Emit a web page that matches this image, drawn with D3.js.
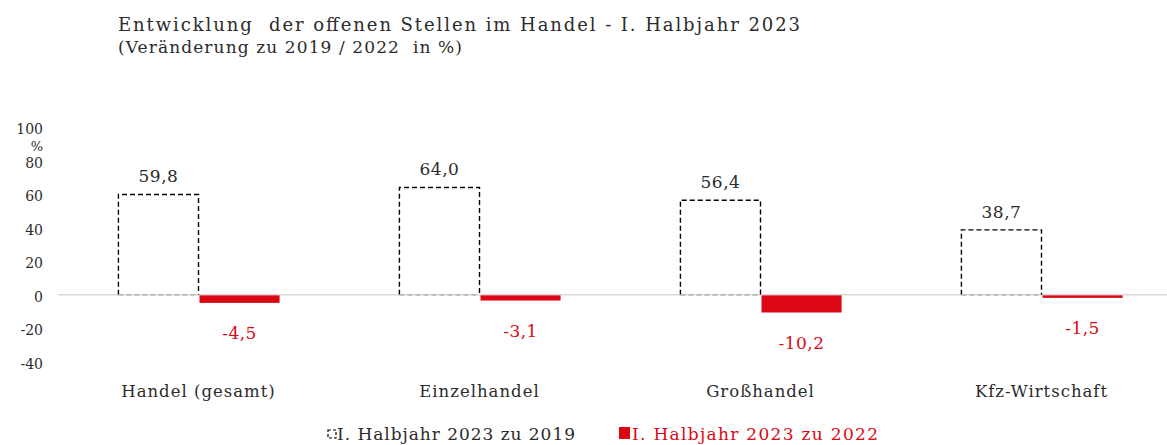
<!DOCTYPE html>
<html><head><meta charset="utf-8">
<script src="https://cdn.jsdelivr.net/npm/d3@7"></script>
<style>
html,body{margin:0;padding:0;background:#fff;}
svg{display:block;font-family:"DejaVu Serif",serif;}
</style></head>
<body>
<svg id="chart" width="1167" height="445"></svg>
<script>
const categories = ["Handel (gesamt)", "Einzelhandel", "Großhandel", "Kfz-Wirtschaft"];
const series = ["I. Halbjahr 2023 zu 2019", "I. Halbjahr 2023 zu 2022"];
const values2019 = [59.8, 64.0, 56.4, 38.7];
const values2022 = [-4.5, -3.1, -10.2, -1.5];
const yTicks = [100, 80, 60, 40, 20, 0, -20, -40];
const titleText = "Entwicklung  der offenen Stellen im Handel - I. Halbjahr 2023";
const subtitleText = "(Veränderung zu 2019 / 2022  in %)";

const RED = "#dc0714", TXT = "#2b2b2b";
const svg = d3.select("#chart");
const fmt = v => d3.format(".1f")(v).replace(".", ",").replace("\u2212", "-");

const y = d3.scaleLinear().domain([-40, 100]).range([362, 127]);
const x = d3.scaleBand().domain(categories).range([58, 1182]).padding(0);
const bw = x.bandwidth();
const xs = d3.scaleBand().domain(series).range([bw * 0.215, bw * 0.785]).padding(0);

// title
svg.append("text").attr("x", 118).attr("y", 31).attr("fill", TXT)
  .attr("font-size", 18).attr("textLength", 682).attr("lengthAdjust", "spacing")
  .style("white-space", "pre").text(titleText);
svg.append("text").attr("x", 118).attr("y", 53).attr("fill", TXT)
  .attr("font-size", 17).attr("textLength", 344).attr("lengthAdjust", "spacing")
  .style("white-space", "pre").text(subtitleText);

// y axis labels
const yAxis = d3.axisLeft(y).tickValues(yTicks).tickSize(0).tickPadding(0).tickFormat(d => String(d));
const ga = svg.append("g").attr("transform", "translate(43,2)").call(yAxis);
ga.select(".domain").remove();
ga.selectAll("text").attr("font-family", "DejaVu Serif").attr("font-size", 14).attr("fill", TXT);
svg.append("text").attr("x", 43).attr("y", 151).attr("text-anchor", "end")
  .attr("font-size", 13).attr("fill", TXT).text("%");

// zero line
svg.append("line").attr("x1", 58).attr("x2", 1167).attr("y1", y(0)).attr("y2", y(0))
  .attr("stroke", "#d9d9d9").attr("stroke-width", 1.5);

const groups = svg.selectAll("g.grp").data(categories).enter().append("g")
  .attr("class", "grp").attr("transform", d => `translate(${x(d)},0)`);

// dashed bars (2019)
groups.each(function(c, i) {
  const g = d3.select(this);
  const x0 = xs(series[0]), x1 = x0 + xs.bandwidth();
  const yt = y(values2019[i]), y0 = y(0);
  g.append("path").attr("d", `M${x0},${y0} L${x0},${yt} L${x1},${yt} L${x1},${y0}`)
    .attr("fill", "none").attr("stroke", "#000").attr("stroke-width", 1.4)
    .attr("stroke-dasharray", "5,3");
  g.append("line").attr("x1", x0).attr("x2", x1).attr("y1", y0).attr("y2", y0)
    .attr("stroke", "#b8b8b8").attr("stroke-width", 1.6).attr("stroke-dasharray", "5,3");
  g.append("text").attr("x", (x0 + x1) / 2).attr("y", yt - 12).attr("text-anchor", "middle")
    .attr("font-size", 17).attr("letter-spacing", 0.5).attr("fill", TXT).text(fmt(values2019[i]));
});

// red bars (2022)
groups.each(function(c, i) {
  const g = d3.select(this);
  const x0 = xs(series[1]) + 1, w = xs.bandwidth();
  const v = values2022[i];
  g.append("rect").attr("x", x0).attr("y", y(0) + 0.5).attr("width", w)
    .attr("height", Math.max(1, y(v) - y(0))).attr("fill", RED);
  g.append("text").attr("x", x0 + w / 2).attr("y", y(v) + 37).attr("text-anchor", "middle")
    .attr("font-size", 17).attr("letter-spacing", 0.5).attr("fill", RED).text(fmt(v));
});

// category labels
svg.selectAll("text.cat").data(categories).enter().append("text").attr("class", "cat")
  .attr("x", d => x(d) + bw / 2).attr("y", 397).attr("text-anchor", "middle")
  .attr("font-size", 16.5).attr("letter-spacing", 1).attr("fill", TXT).text(d => d);

// legend
const lg = svg.append("g");
lg.append("rect").attr("x", 328).attr("y", 430).attr("width", 8).attr("height", 8)
  .attr("fill", "none").attr("stroke", "#000").attr("stroke-width", 1.2).attr("stroke-dasharray", "3,2");
lg.append("text").attr("x", 337).attr("y", 440).attr("font-size", 17).attr("fill", TXT)
  .attr("textLength", 238).attr("lengthAdjust", "spacing").text(series[0]);
lg.append("rect").attr("x", 619).attr("y", 427).attr("width", 11).attr("height", 12).attr("fill", RED);
lg.append("text").attr("x", 632).attr("y", 440).attr("font-size", 17).attr("fill", RED)
  .attr("textLength", 246).attr("lengthAdjust", "spacing").text(series[1]);
</script>
</body></html>
